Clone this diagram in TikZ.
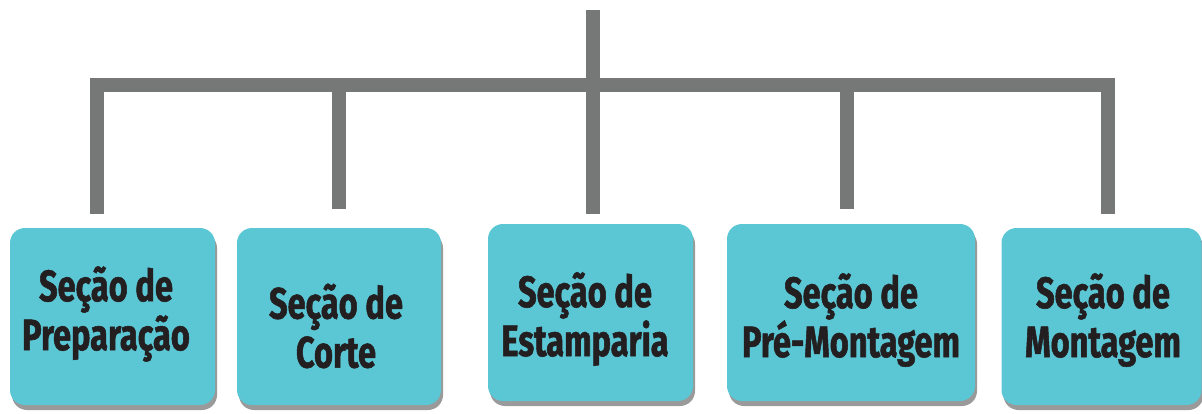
\documentclass[tikz,border=0pt]{standalone}
\usepackage{fontspec}
\setmainfont{Fira Sans}[FakeStretch=0.74, FakeBold=1.2]
\usetikzlibrary{shadows}
\definecolor{boxc}{HTML}{5BC6D4}
\definecolor{linec}{HTML}{767877}
\definecolor{txtc}{HTML}{231F20}
\definecolor{shadc}{HTML}{9A9A9A}
\begin{document}
\begin{tikzpicture}[x=1pt,y=-1pt,
  secbox/.style={fill=boxc, draw=none, rounded corners=15pt, inner sep=0pt,
    minimum height=177pt,
    drop shadow={shadow xshift=2pt, shadow yshift=-5pt, fill=shadc, opacity=1}},
  sectxt/.style={align=center, text=txtc, font=\fontsize{44}{49}\selectfont\bfseries, inner sep=0pt},
  bar/.style={draw=linec, line width=14pt}]
\useasboundingbox (0,0) rectangle (1202,413);
% boxes
\node[secbox, minimum width=205pt] (b1) at (112.5,316.5) {};
\node[secbox, minimum width=204pt] (b2) at (339,316.5) {};
\node[secbox, minimum width=205pt] (b3) at (590.5,312.5) {};
\node[secbox, minimum width=248pt] (b4) at (851,312.5) {};
\node[secbox, minimum width=200pt] (b5) at (1101.5,316.5) {};
% texts
\node[sectxt] (t1) at (106,314) {Seção de\\Preparação};
\node[sectxt] (t2) at (336,326) {Seção de\\Corte};
\node[sectxt] (t3) at (585,319) {Seção de\\Estamparia};
\node[sectxt] (t4) at (851,320) {Seção de\\Pré-Montagem};
\node[sectxt] (t5) at (1103,320) {Seção de\\Montagem};
% connectors
\coordinate (top) at (593,10);
\coordinate (hub) at (593,85);
\coordinate (l1) at (97,85);
\coordinate (l2) at (338.5,85);
\coordinate (l4) at (847,85);
\coordinate (l5) at (1107.5,85);
\coordinate (e1) at (97,214);
\coordinate (e2) at (338.5,209);
\coordinate (e3) at (593,214);
\coordinate (e4) at (847,209);
\coordinate (e5) at (1107.5,214);
\draw[bar] (top) -- (e3);
\draw[bar] ([xshift=-7pt]l1) -- ([xshift=7pt]l5);
\draw[bar] ([yshift=-7pt]l1) -- (e1);
\draw[bar] (l2) -- (e2);
\draw[bar] (l4) -- (e4);
\draw[bar] ([yshift=-7pt]l5) -- (e5);
\end{tikzpicture}
\end{document}
